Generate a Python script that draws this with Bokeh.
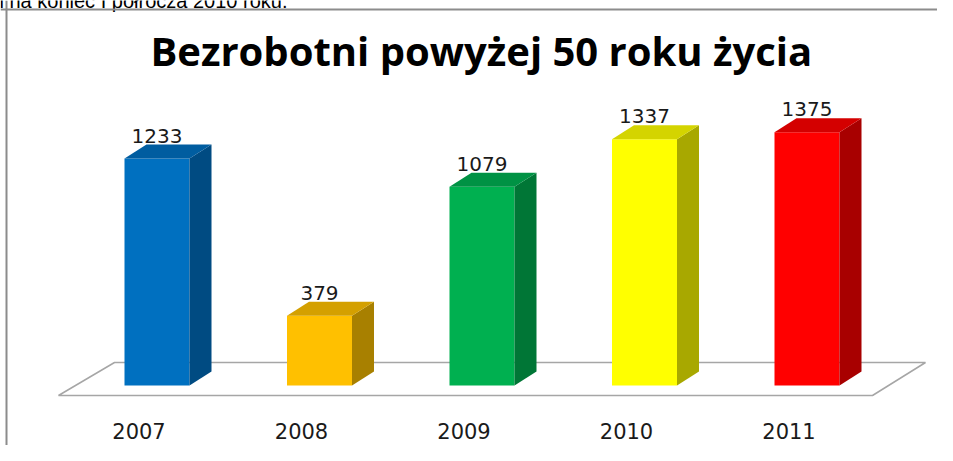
from bokeh.plotting import figure
from bokeh.models import Range1d, Span
from bokeh.core.properties import value
from bokeh.embed import file_html
from bokeh.resources import INLINE

# ---- data ----
title_text = "Bezrobotni  powyżej 50 roku życia"
caption_text = "i na koniec I półrocza 2010 roku."
years = ["2007", "2008", "2009", "2010", "2011"]
counts = [1233, 379, 1079, 1337, 1375]
front_colors = ["#0070C0", "#FFC000", "#00B050", "#FFFF00", "#FF0000"]
top_colors = ["#005DA0", "#D4A000", "#009244", "#D4D400", "#D40000"]
side_colors = ["#004B82", "#A88000", "#007636", "#A8A800", "#A80000"]

# ---- layout constants (pixels) ----
W, H = 937, 445
PX_PER_UNIT = 0.1841     # pixels per count
PX_PER_SLOT = 162.5      # pixels between bars
X0_PX = 156.5            # canvas x of first bar centre
Y0_PX = 385.0            # canvas y of value 0

def dx(px):
    return px / PX_PER_SLOT

def dy(px):
    return px / PX_PER_UNIT

def cx(px):   # absolute canvas x -> data x
    return (px - X0_PX) / PX_PER_SLOT

def cy(px):   # absolute canvas y -> data y
    return (Y0_PX - px) / PX_PER_UNIT

x_range = Range1d(cx(0), cx(W))
y_range = Range1d(cy(H), cy(0))

p = figure(width=W, height=H, x_range=x_range, y_range=y_range,
           output_backend="svg", toolbar_location=None,
           min_border=0, min_border_left=0, min_border_right=0,
           min_border_top=0, min_border_bottom=0)
p.axis.visible = False
p.grid.visible = False
p.outline_line_color = None
p.background_fill_color = "white"
p.border_fill_color = "white"

# caption cut by the top of the picture (as in the source)
p.text(x=[cx(-1)], y=[cy(0)], text=[caption_text],
       text_font=value("Liberation Sans"), text_font_size="20px",
       text_color="black", text_align="left", text_baseline="alphabetic")

# frame border (left and top)
p.add_layout(Span(location=cx(6), dimension="height",
                  line_color="#8C8C8C", line_width=2))
p.add_layout(Span(location=cy(9), dimension="width",
                  line_color="#8C8C8C", line_width=2))

# floor
n = len(years)
floor_front = -dy(10)
floor_back = dy(23)
p.patch(x=[-dx(98.5), (n - 1) + dx(65.5), (n - 1) + dx(118.5), -dx(42.5)],
        y=[floor_front, floor_front, floor_back, floor_back],
        fill_color="white", line_color="#A6A6A6", line_width=1.5)

# bars
half = dx(32.5)
ddx, ddy = dx(22), dy(14)
xs_c = list(range(n))
p.quad(left=[i - half for i in xs_c], right=[i + half for i in xs_c],
       bottom=[0] * n, top=counts, fill_color=front_colors, line_color=None)
side_xs = [[i + half, i + half + ddx, i + half + ddx, i + half] for i in xs_c]
side_ys = [[0, ddy, v + ddy, v] for v in counts]
p.patches(xs=side_xs, ys=side_ys, fill_color=side_colors, line_color=None)
top_xs = [[i - half, i - half + ddx, i + half + ddx, i + half] for i in xs_c]
top_ys = [[v, v + ddy, v + ddy, v] for v in counts]
p.patches(xs=top_xs, ys=top_ys, fill_color=top_colors, line_color=None)

# value labels
p.text(x=xs_c, y=[v + ddy + dy(2) for v in counts], text=[str(v) for v in counts],
       text_font=value("DejaVu Sans"), text_font_size="20px",
       text_color="#1a1a1a", text_align="center", text_baseline="bottom")

# category labels
p.text(x=[i - dx(18) for i in xs_c], y=[cy(430)] * n, text=years,
       text_font=value("DejaVu Sans"), text_font_size="21px",
       text_color="#1a1a1a", text_align="center", text_baseline="middle")

# title
p.text(x=[cx(486)], y=[cy(50)], text=[title_text],
       text_font=value("Open Sans"), text_font_style="bold", text_font_size="40px",
       text_color="black", text_align="center", text_baseline="middle")

open("out.html", "w").write(file_html(p, INLINE))
